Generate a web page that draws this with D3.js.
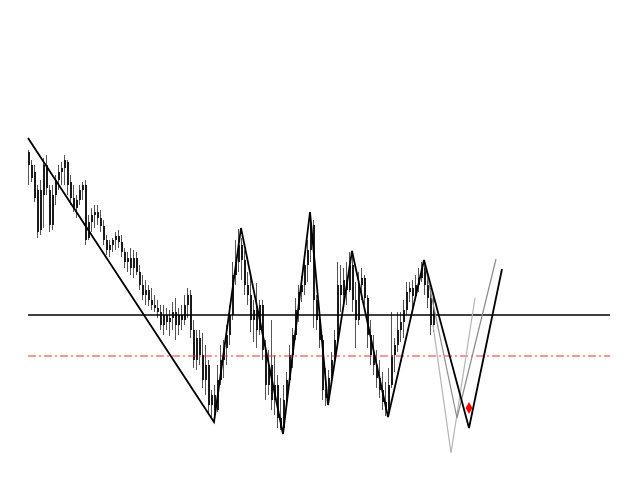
<!DOCTYPE html>
<html><head><meta charset="utf-8">
<script src="https://cdn.jsdelivr.net/npm/d3@7"></script>
<style>html,body{margin:0;padding:0;background:#fff;}svg{display:block;}</style>
</head><body>
<script>
// Candle data (price points), index = bar number
const highs = [330,320,315,295,300,322,325,295,295,305,315,318,325,320,305,295,285,295,298,300,
265,272,275,275,270,260,245,240,242,248,250,245,232,228,232,230,228,215,205,200,
195,192,185,180,175,175,172,170,178,182,172,175,185,192,190,160,150,150,147,135,
120,90,95,115,135,140,155,175,218,240,251,242,230,208,205,180,197,180,180,140,
130,160,125,105,82,95,108,135,152,182,195,204,222,240,268,260,185,172,145,112,
110,128,150,218,215,212,218,228,228,198,208,212,205,185,160,145,130,120,108,98,
112,168,142,168,168,180,198,198,200,205,212,218,220,208,192,182];
const lows = [295,298,278,242,245,252,285,248,250,275,290,295,295,285,275,268,262,275,280,235,
240,248,252,255,248,235,225,223,228,230,232,223,212,208,205,202,205,190,180,175,
174,170,168,162,150,145,150,144,150,140,145,150,155,162,142,112,110,115,92,85,
65,62,60,68,95,102,115,135,160,195,208,200,185,175,148,138,132,145,120,80,
85,70,65,52,50,46,75,95,112,140,158,178,185,198,218,152,150,132,80,74,
78,98,118,135,168,178,175,188,168,132,155,180,175,132,115,105,92,82,70,64,
65,92,108,128,138,142,165,178,172,182,188,198,185,172,145,148];
const opens = [328,315,308,290,250,285,315,290,255,285,300,308,312,318,298,282,272,280,290,295,
242,258,265,268,262,254,240,230,235,240,244,238,228,218,222,212,222,208,195,185,
190,180,175,172,168,155,165,158,162,168,155,165,160,175,185,150,120,142,125,100,
115,75,85,70,100,120,132,145,165,205,218,235,220,195,185,160,170,150,175,130,
95,115,80,95,62,52,80,100,125,145,170,188,195,215,230,255,180,160,140,90,
82,102,120,140,195,185,200,190,215,180,160,195,202,182,145,125,115,102,90,78,
70,95,125,135,150,158,170,188,192,184,195,202,212,195,182,155];
const closes = [315,302,282,248,290,315,292,255,285,300,308,312,320,295,282,272,280,290,295,240,
258,265,268,262,254,240,230,235,240,244,238,228,218,222,212,222,208,195,185,190,
180,175,172,168,155,165,158,162,168,155,165,160,175,185,150,120,142,125,100,115,
75,85,70,100,120,132,145,165,205,218,235,220,195,185,160,170,150,175,130,95,
115,80,95,62,52,80,100,125,145,170,188,195,215,230,255,180,160,140,90,82,
102,120,140,195,185,200,190,215,180,160,195,202,182,145,125,115,102,90,78,70,
95,125,135,150,158,170,188,192,184,195,202,212,195,182,155,170];

// Zigzag pivots (bar index, price)
const zigIndex = [0, 62, 71, 85, 94, 100, 108, 120, 132, 147, 158];
const zigValue = [342, 58, 252, 46, 268, 75, 229, 63, 220, 52, 211];

// Projection paths
const projAIndex = [132, 143, 156];
const projAValue = [220, 62, 221];
const projBIndex = [135, 141, 149];
const projBValue = [155, 27, 182];

// Levels
const levelMain = 165;
const levelRed = 124;
const levelRange = [0, 194];

// Target marker
const markerIndex = 147;
const markerValue = 72;

const W = 640, H = 480;
const svg = d3.select("body").append("svg").attr("width", W).attr("height", H);

const x = d3.scaleLinear().domain([0, 194]).range([28, 610]);
const y = d3.scaleLinear().domain([0, 480]).range([480, 0]);

const bars = d3.range(highs.length).map(i => ({i, h: highs[i], l: lows[i], o: opens[i], c: closes[i]}));

const gC = svg.append("g");
gC.selectAll("line.wick").data(bars).join("line")
  .attr("class", "wick")
  .attr("x1", d => Math.round(x(d.i)) + 0.5).attr("x2", d => Math.round(x(d.i)) + 0.5)
  .attr("y1", d => y(d.h)).attr("y2", d => y(d.l))
  .attr("stroke", "#555").attr("stroke-width", 1);
gC.selectAll("rect.body").data(bars).join("rect")
  .attr("class", "body")
  .attr("x", d => Math.round(x(d.i)))
  .attr("width", 2)
  .attr("y", d => y(Math.max(d.o, d.c)))
  .attr("height", d => Math.max(1, Math.abs(y(d.o) - y(d.c))))
  .attr("fill", "#1a1a1a");

// Horizontal levels
svg.append("line")
  .attr("x1", x(levelRange[0])).attr("x2", x(levelRange[1]))
  .attr("y1", y(levelMain)).attr("y2", y(levelMain))
  .attr("stroke", "#000").attr("stroke-width", 1.5);
svg.append("line")
  .attr("x1", x(levelRange[0])).attr("x2", x(levelRange[1]))
  .attr("y1", y(levelRed)).attr("y2", y(levelRed))
  .attr("stroke", "#ff3030").attr("stroke-width", 1)
  .attr("stroke-dasharray", "8,3,2,3");

const line = d3.line().x(d => x(d[0])).y(d => y(d[1]));

svg.append("path")
  .attr("d", line(projBIndex.map((v, k) => [v, projBValue[k]])))
  .attr("fill", "none").attr("stroke", "#b4b4b4").attr("stroke-width", 1.2);
svg.append("path")
  .attr("d", line(projAIndex.map((v, k) => [v, projAValue[k]])))
  .attr("fill", "none").attr("stroke", "#8a8a8a").attr("stroke-width", 1.2);

svg.append("path")
  .attr("d", line(zigIndex.map((v, k) => [v, zigValue[k]])))
  .attr("fill", "none").attr("stroke", "#000").attr("stroke-width", 1.8)
  .attr("stroke-linejoin", "miter");

svg.append("path")
  .attr("d", d3.symbol().type(d3.symbolDiamond).size(40)())
  .attr("transform", `translate(${x(markerIndex)},${y(markerValue)})`)
  .attr("fill", "#ff0000");
</script>
</body></html>
